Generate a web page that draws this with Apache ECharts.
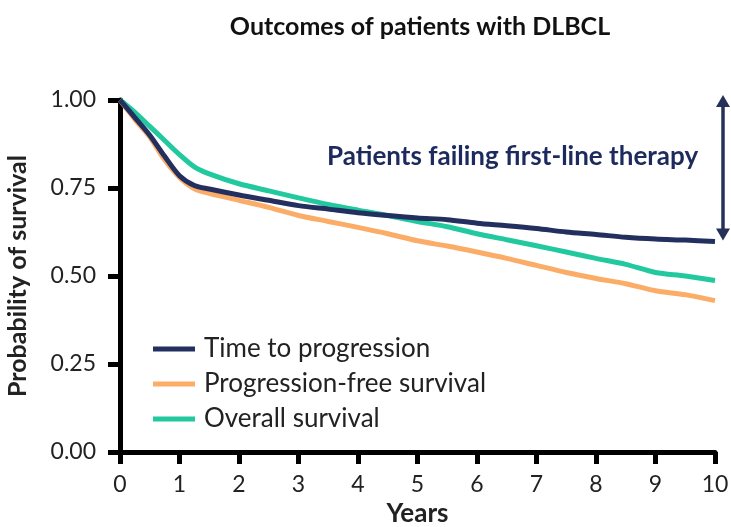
<!DOCTYPE html>
<html>
<head>
<meta charset="utf-8">
<script src="https://cdn.jsdelivr.net/npm/echarts@6/dist/echarts.min.js"></script>
<style>
  html, body { margin: 0; padding: 0; background: #fff; }
  #chart { width: 731px; height: 527px; }
</style>
</head>
<body>
<div id="chart"></div>
<script>
// values
const years = [0, 0.25, 0.5, 0.75, 1, 1.25, 1.5, 2, 2.5, 3, 3.5, 4, 4.5, 5, 5.5, 6, 6.5, 7, 7.5, 8, 8.5, 9, 9.5, 10]
const ttp = [1.0, 0.95, 0.9, 0.84, 0.785, 0.757, 0.747, 0.73, 0.715, 0.7, 0.69, 0.68, 0.672, 0.665, 0.66, 0.65, 0.643, 0.635, 0.625, 0.618, 0.61, 0.605, 0.602, 0.598]
const pfs = [1.0, 0.945, 0.895, 0.83, 0.78, 0.748, 0.735, 0.715, 0.695, 0.672, 0.655, 0.638, 0.62, 0.6, 0.585, 0.568, 0.55, 0.53, 0.51, 0.493, 0.478, 0.458, 0.447, 0.43]
const os = [1.0, 0.965, 0.925, 0.885, 0.845, 0.81, 0.79, 0.762, 0.742, 0.722, 0.703, 0.687, 0.672, 0.655, 0.64, 0.62, 0.603, 0.586, 0.568, 0.55, 0.533, 0.51, 0.5, 0.487]
const yTicks = ['0.00', '0.25', '0.50', '0.75', '1.00']
const seriesNames = ['Time to progression', 'Progression-free survival', 'Overall survival']
const colors = ['#232f5e', '#fbad68', '#22c99f']

const font = 'Lato, "Open Sans", sans-serif'
const chart = echarts.init(document.getElementById('chart'))

function pairs(vals) {
  return years.map((x, i) => [x, vals[i]])
}

const option = {
  backgroundColor: '#fff',
  animation: false,
  title: {
    text: 'Outcomes of patients with DLBCL',
    left: 415,
    textAlign: 'center',
    top: 9,
    textStyle: { fontFamily: font, fontSize: 25, fontWeight: 'bold', color: '#111' }
  },
  grid: { left: 120, right: 16, top: 100, bottom: 75, outerBoundsMode: 'none' },
  legend: {
    orient: 'vertical',
    left: 148,
    top: 331,
    icon: 'rect',
    itemWidth: 42,
    itemHeight: 5,
    itemGap: 9,
    textStyle: { fontFamily: font, fontSize: 26, color: '#222', lineHeight: 26, padding: [0, 0, 0, 4] },
    data: seriesNames
  },
  xAxis: {
    type: 'value',
    min: 0,
    max: 10,
    interval: 1,
    name: 'Years',
    nameLocation: 'middle',
    nameGap: 49,
    nameTextStyle: { fontFamily: font, fontSize: 26, fontWeight: 'bold', color: '#222' },
    axisLine: { lineStyle: { color: '#000', width: 5 } },
    axisTick: { show: true, length: 12, lineStyle: { color: '#000', width: 5 } },
    axisLabel: { fontFamily: font, fontSize: 23, color: '#222', margin: 21 },
    splitLine: { show: false }
  },
  yAxis: {
    type: 'value',
    min: 0,
    max: 1,
    interval: 0.25,
    name: 'Probability of survival',
    nameLocation: 'middle',
    nameGap: 90,
    nameRotate: 90,
    nameTextStyle: { fontFamily: font, fontSize: 25, fontWeight: 'bold', color: '#222' },
    axisLine: { show: true, lineStyle: { color: '#000', width: 5 } },
    axisTick: { show: true, length: 12, lineStyle: { color: '#000', width: 5 } },
    axisLabel: {
      fontFamily: font, fontSize: 23, color: '#222', margin: 24,
      formatter: (v) => yTicks[Math.round(v / 0.25)]
    },
    splitLine: { show: false }
  },
  series: [ttp, pfs, os].map((vals, i) => ({
    name: seriesNames[i],
    type: 'line',
    data: pairs(vals),
    symbol: 'none',
    smooth: 0.3,
    z: i === 2 ? 3 : (i === 0 ? 4 : 2),
    itemStyle: { color: colors[i] },
    lineStyle: { color: colors[i], width: 5 }
  })),
  graphic: [
    {
      type: 'text',
      left: 327,
      top: 144,
      style: {
        text: 'Patients failing first-line therapy',
        fontFamily: font,
        fontSize: 26,
        fontWeight: 'bold',
        fill: '#1c2a5e'
      }
    }
  ]
}
chart.setOption(option)

// double arrow at the right edge, from 1.00 down to the end of time to progression
const pTop = chart.convertToPixel({ gridIndex: 0 }, [10, 1.0])
const pBot = chart.convertToPixel({ gridIndex: 0 }, [10, ttp[ttp.length - 1]])
const ax = pTop[0] + 8
const y1 = pTop[1] - 5
const y2 = pBot[1] - 1
chart.setOption({
  graphic: [
    option.graphic[0],
    {
      type: 'line',
      shape: { x1: ax, y1: y1 + 8, x2: ax, y2: y2 - 8 },
      style: { stroke: '#243159', lineWidth: 3.5 }
    },
    {
      type: 'polygon',
      shape: { points: [[ax, y1], [ax - 7, y1 + 12], [ax + 7, y1 + 12]] },
      style: { fill: '#243159' }
    },
    {
      type: 'polygon',
      shape: { points: [[ax, y2], [ax - 7, y2 - 12], [ax + 7, y2 - 12]] },
      style: { fill: '#243159' }
    }
  ]
})
</script>
</body>
</html>
